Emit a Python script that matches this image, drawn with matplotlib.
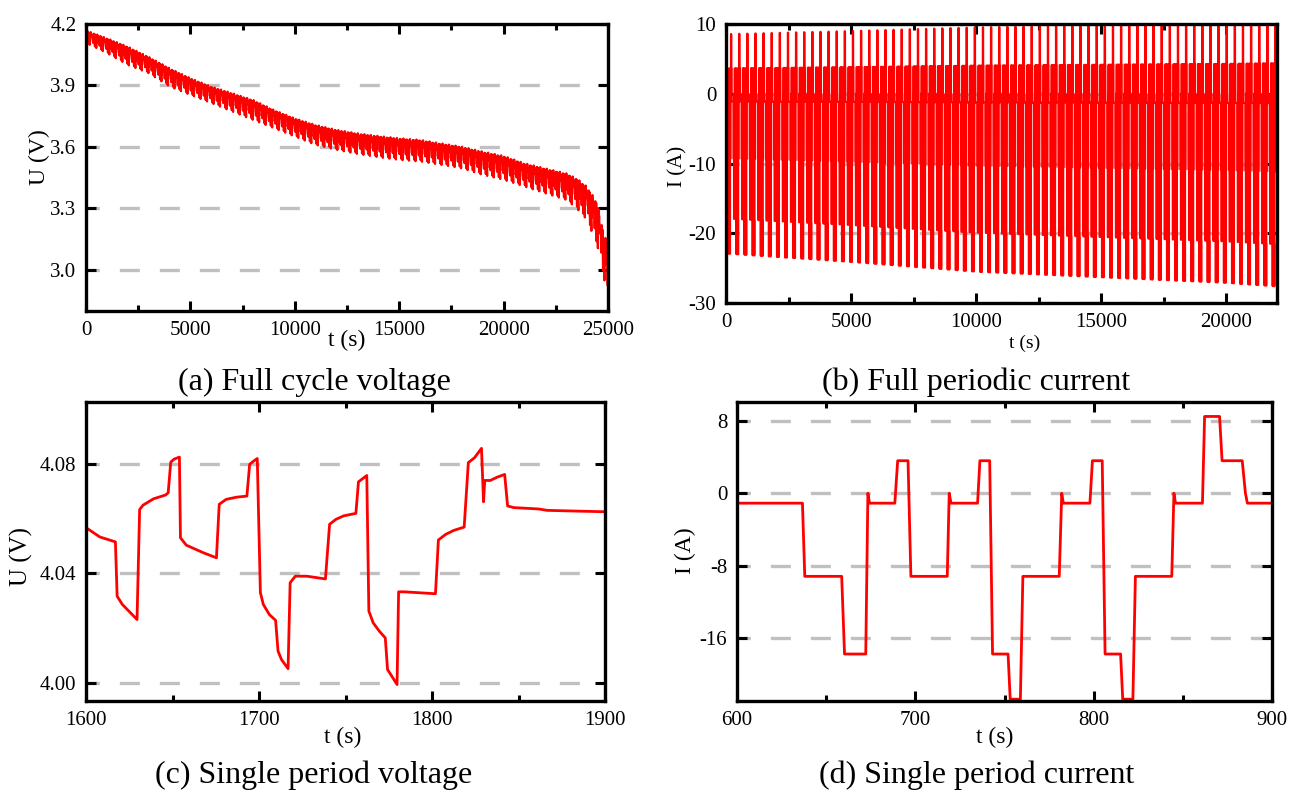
import numpy as np
import matplotlib
matplotlib.use('Agg')
import matplotlib.pyplot as plt
from matplotlib.ticker import MultipleLocator

W, H = 1292, 791
RED = '#ff0000'
GRID = '#c0c0c0'

plt.rcParams['font.family'] = ['Liberation Serif', 'DejaVu Serif']
plt.rcParams['axes.unicode_minus'] = False

# (c) single period voltage
volt_t = [1600, 1608, 1617, 1618, 1621, 1629.5, 1631, 1633, 1639, 1646, 1647.5, 1649,
          1651, 1654, 1654.6, 1658, 1668, 1675.4, 1677, 1681, 1687, 1693, 1694.6, 1697,
          1699, 1700.8, 1702.5, 1706, 1709.6, 1711, 1713, 1716.8, 1718, 1721, 1727.6,
          1738.4, 1740.8, 1744.4, 1749, 1756, 1757.5, 1762.3, 1763.5, 1766, 1769.5, 1773,
          1774.3, 1779.8, 1780.7, 1784, 1802, 1803.7, 1807.8, 1812.6, 1818.6, 1821,
          1824.6, 1828.6, 1829.8, 1830.5, 1833.7, 1837.7, 1842, 1843.7, 1847.3, 1861.7,
          1866.5, 1885.6, 1899.5]
volt_v = [4.0567, 4.0533, 4.0515, 4.0317, 4.0287, 4.0232, 4.0633, 4.0649, 4.0672, 4.0686,
          4.0694, 4.0806, 4.0817, 4.0824, 4.0530, 4.0503, 4.0475, 4.0457, 4.0652, 4.0670,
          4.0678, 4.0682, 4.0798, 4.0810, 4.0819, 4.0330, 4.0287, 4.0250, 4.0229, 4.0117,
          4.0086, 4.0053, 4.0366, 4.0390, 4.0390, 4.0380, 4.0579, 4.0597, 4.0610, 4.0619,
          4.0734, 4.0757, 4.0263, 4.0220, 4.0190, 4.0165, 4.0050, 3.9995, 4.0333, 4.0333,
          4.0326, 4.0522, 4.0542, 4.0557, 4.0569, 4.0804, 4.0822, 4.0856, 4.0661, 4.0739,
          4.0739, 4.0751, 4.0761, 4.0646, 4.0640, 4.0635, 4.0630, 4.0627, 4.0625]

# (d) single period current
cur_t = [600, 636.7, 638, 658.7, 660.3, 672.2, 673.4, 674.3, 688.5, 690.1, 695.9, 697.5,
         717.9, 719, 720, 734.9, 736.2, 741.7, 743.3, 752, 753.2, 758.9, 760.3, 780.7,
         782.1, 783, 797.9, 799.3, 804.8, 806.4, 815.1, 816.3, 822, 823.4, 843.8, 845,
         845.9, 861, 862.2, 870.6, 872, 883.3, 885.1, 886.2, 900]
cur_i = [-1.1, -1.1, -9.2, -9.2, -17.8, -17.8, 0, -1.1, -1.1, 3.6, 3.6, -9.2, -9.2, 0,
         -1.1, -1.1, 3.6, 3.6, -17.8, -17.8, -22.8, -22.8, -9.2, -9.2, 0, -1.1, -1.1, 3.6,
         3.6, -17.8, -17.8, -22.8, -22.8, -9.2, -9.2, 0, -1.1, -1.1, 8.5, 8.5, 3.6, 3.6, 0,
         -1.1, -1.1]

# (a) upper / lower edge of the voltage band over the full cycle
env_t = [0, 1000, 2000, 3000, 4000, 5000, 6000, 7000, 8000, 9000, 10000, 11000, 12000,
         13000, 14000, 15000, 16000, 17000, 18000, 19000, 20000, 21000, 22000, 23000,
         23500, 24000, 24500, 24800, 25000]
env_hi = [4.169, 4.131, 4.09, 4.04, 3.985, 3.936, 3.895, 3.863, 3.83, 3.781, 3.74, 3.708,
          3.684, 3.667, 3.654, 3.643, 3.635, 3.618, 3.602, 3.578, 3.557, 3.521, 3.496,
          3.472, 3.447, 3.407, 3.325, 3.179, 3.12]
env_lo = [4.107, 4.058, 4.0, 3.96, 3.895, 3.854, 3.814, 3.773, 3.732, 3.692, 3.651, 3.61,
          3.586, 3.566, 3.55, 3.537, 3.529, 3.513, 3.496, 3.464, 3.44, 3.407, 3.374,
          3.342, 3.301, 3.244, 3.114, 2.967, 2.84]
PERIOD_A = 312   # s, spacing of the teeth in (a)
T_END_A = 25000

# (b) deepest current pulse over the full test
imin_t = [0, 5000, 10000, 15000, 20000, 22000]
imin_v = [-22.9, -24.1, -25.5, -26.3, -27.1, -27.6]
PERIOD_B = 325   # s, spacing of the pulses in (b)
START_B = -62
T_END_B = 22040


def full_voltage():
    shape_t = np.array(volt_t) - volt_t[0]
    v = np.array(volt_v)
    shape = (v - v.min()) / (v.max() - v.min())
    ts, vs = [], []
    k = 0
    while k * PERIOD_A < T_END_A:
        t = k * PERIOD_A + shape_t
        keep = t <= T_END_A
        t = t[keep]
        hi = np.interp(t, env_t, env_hi)
        lo = np.interp(t, env_t, env_lo)
        ts.append(t)
        vs.append(lo + shape[keep] * (hi - lo))
        k += 1
    return np.concatenate(ts), np.concatenate(vs)


def full_current():
    shape_t = np.array(cur_t) - cur_t[0]
    i = np.array(cur_i)
    ts, cs = [], []
    t0 = START_B
    while t0 < T_END_B:
        t = t0 + shape_t
        keep = t <= T_END_B
        t = t[keep]
        gain = np.interp(t, imin_t, imin_v) / i.min()
        ts.append(t)
        cs.append(i[keep] * gain)
        t0 += PERIOD_B
    return np.concatenate(ts), np.concatenate(cs)


def rect(l, r, t, b):
    return [l / W, 1 - b / H, (r - l) / W, (b - t) / H]


def style(ax, xmaj, xmin, ymaj, size=15):
    for s in ax.spines.values():
        s.set_linewidth(2.4)
    ax.xaxis.set_major_locator(MultipleLocator(xmaj))
    ax.xaxis.set_minor_locator(MultipleLocator(xmin))
    ax.yaxis.set_major_locator(MultipleLocator(ymaj))
    ax.yaxis.set_minor_locator(plt.NullLocator())
    ax.tick_params(which='both', direction='in', top=True, right=True, width=2.2,
                   labelsize=size, pad=7)
    ax.tick_params(which='major', length=7)
    ax.tick_params(which='minor', length=4)
    ax.set_axisbelow(True)
    ax.grid(axis='y', which='major', color=GRID, lw=2.4, linestyle=(2, (6, 6)))


def ftext(x, y, s, size, rot=0):
    fig.text(x / W, 1 - y / H, s, fontsize=size, rotation=rot, ha='center', va='center')


fig = plt.figure(figsize=(W / 100, H / 100), dpi=100)

# (a)
ax = fig.add_axes(rect(86, 608, 24, 311))
ta, va = full_voltage()
ax.plot(ta, va, color=RED, lw=1.6)
ax.set_xlim(0, 25000)
ax.set_ylim(2.8, 4.2)
style(ax, 5000, 2500, 0.3)
ax.yaxis.set_major_formatter(plt.FuncFormatter(lambda v, p: f'{v:.1f}'))
ftext(347, 340, 't (s)', 17)
ftext(39, 157, 'U (V)', 17, 90)
ftext(314, 382, '(a) Full cycle voltage', 23)

# (b)
ax = fig.add_axes(rect(726, 1277, 24, 303))
tb, ib = full_current()
ax.plot(tb, ib, color=RED, lw=1.6)
ax.set_xlim(0, T_END_B)
ax.set_ylim(-30, 10)
style(ax, 5000, 2500, 10)
ftext(1025, 343, 't (s)', 14)
ftext(678, 166, 'I (A)', 15, 90)
ftext(976, 382, '(b) Full periodic current', 23)

# (c)
ax = fig.add_axes(rect(86, 605, 402, 701))
ax.plot(volt_t, volt_v, color=RED, lw=2)
ax.set_xlim(1600, 1900)
ax.set_ylim(3.9935, 4.1025)
style(ax, 100, 50, 0.04)
ax.yaxis.set_major_formatter(plt.FuncFormatter(lambda v, p: f'{v:.2f}'))
ftext(343, 737, 't (s)', 17)
ftext(21, 557, 'U (V)', 18, 90)
ftext(314, 775, '(c) Single period voltage', 23)

# (d)
ax = fig.add_axes(rect(737, 1272, 402, 701))
ax.plot(cur_t, cur_i, color=RED, lw=2)
ax.set_xlim(600, 900)
ax.set_ylim(-23, 10.1)
style(ax, 100, 50, 8)
ftext(995, 737, 't (s)', 17)
ftext(685, 551, 'I (A)', 17, 90)
ftext(977, 775, '(d) Single period current', 23)

fig.savefig('out.png', dpi=100)
